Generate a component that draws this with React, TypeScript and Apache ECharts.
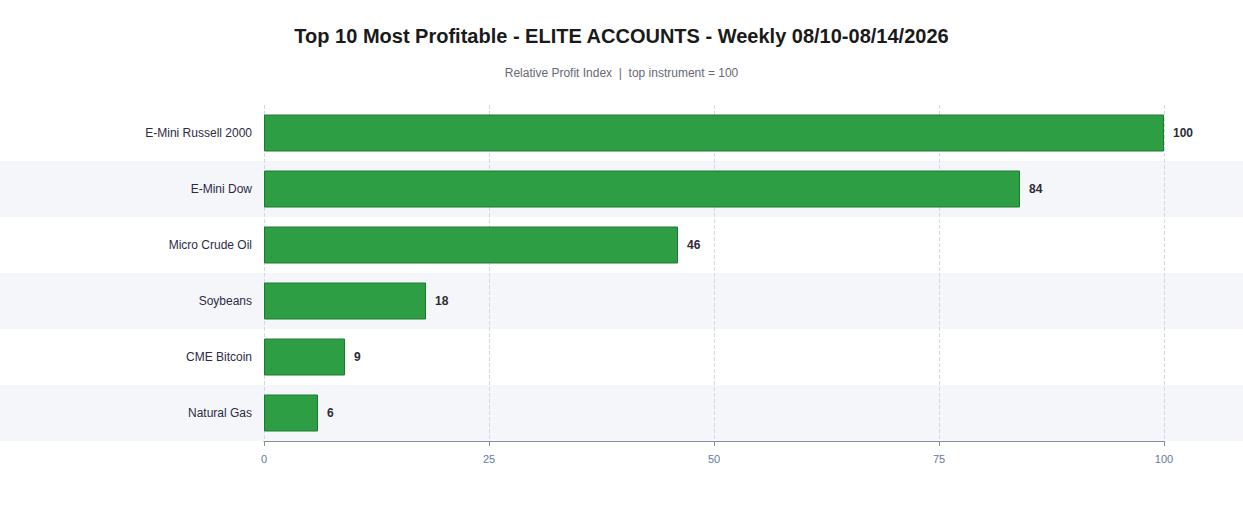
import React, { useEffect, useRef } from "react";
import * as echarts from "echarts";

const categories = [
  "E-Mini Russell 2000",
  "E-Mini Dow",
  "Micro Crude Oil",
  "Soybeans",
  "CME Bitcoin",
  "Natural Gas",
];
const values = [100, 84, 46, 18, 9, 6];
const xTicks = [0, 25, 50, 75, 100];

const FONT = "'Liberation Sans', Arial, sans-serif";

export default function App() {
  const ref = useRef<HTMLDivElement>(null);
  useEffect(() => {
    document.body.style.margin = "0";
    if (!ref.current) return;
    const chart = echarts.init(ref.current, null, { renderer: "svg" });
    chart.setOption({
      animation: false,
      backgroundColor: "#ffffff",
      textStyle: { fontFamily: FONT },
      title: {
        text: "Top 10 Most Profitable - ELITE ACCOUNTS - Weekly 08/10-08/14/2026",
        subtext: "Relative Profit Index  |  top instrument = 100",
        left: "center",
        top: 21,
        itemGap: 21,
        textStyle: { fontSize: 20, fontWeight: "bold", color: "#1a1a1a", fontFamily: FONT },
        subtextStyle: { fontSize: 12, color: "#666a75", fontFamily: FONT },
      },
      grid: [
        { left: 264, right: 79, top: 105, bottom: 64 },
        { left: 0, right: 0, top: 105, bottom: 64 },
      ],
      xAxis: [
        {
          type: "value",
          gridIndex: 0,
          min: xTicks[0],
          max: xTicks[xTicks.length - 1],
          interval: 25,
          z: 2,
          axisLine: { show: true, lineStyle: { color: "#8a8c9c" } },
          axisTick: { show: true, length: 5, lineStyle: { color: "#8a8c9c" } },
          axisLabel: { color: "#6679a6", fontSize: 11, margin: 12 },
          splitLine: { show: true, lineStyle: { color: "#d3d7e6", type: "dashed" } },
        },
        {
          type: "value",
          gridIndex: 1,
          show: false,
          min: 0,
          max: 1,
        },
      ],
      yAxis: [
        {
          type: "category",
          gridIndex: 0,
          data: categories,
          inverse: true,
          z: 2,
          axisLine: { show: false },
          axisTick: { show: false },
          axisLabel: { color: "#2b2b45", fontSize: 12, margin: 12 },
          splitLine: { show: false },
        },
        {
          type: "category",
          gridIndex: 1,
          data: categories,
          inverse: true,
          z: 0,
          axisLine: { show: false },
          axisTick: { show: false },
          axisLabel: { show: false },
          splitLine: { show: false },
          splitArea: { show: true, areaStyle: { color: ["#ffffff", "#f5f6fa"] } },
        },
      ],
      series: [
        {
          type: "bar",
          xAxisIndex: 0,
          yAxisIndex: 0,
          data: values,
          barWidth: 37,
          z: 3,
          itemStyle: { color: "#2e9e44", borderColor: "#1c7a2f", borderWidth: 1 },
          label: {
            show: true,
            position: "right",
            distance: 9,
            color: "#2b2b3a",
            fontWeight: "bold",
            fontSize: 12,
          },
        },
      ],
    });
    return () => chart.dispose();
  }, []);
  return <div ref={ref} style={{ width: 1243, height: 505 }} />;
}
